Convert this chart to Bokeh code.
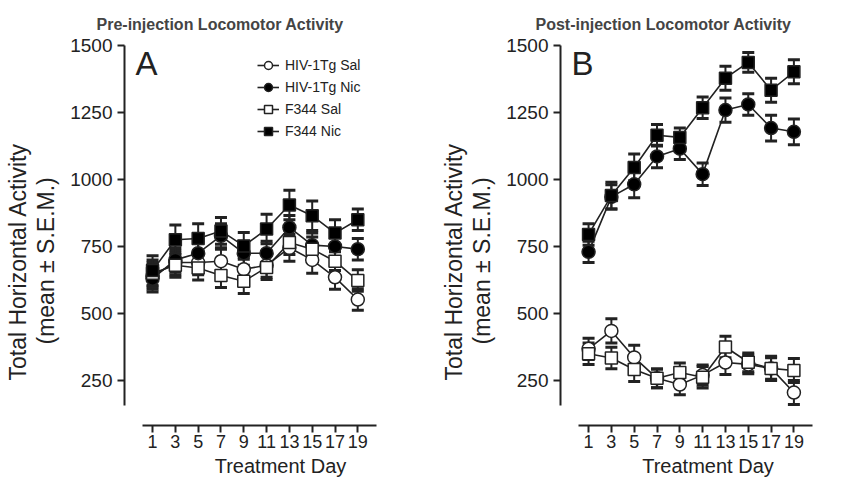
from bokeh.plotting import figure
from bokeh.models import ColumnDataSource, Whisker, TeeHead, Legend, LegendItem, Label, FixedTicker, Title
from bokeh.layouts import row
from bokeh.embed import file_html
from bokeh.resources import INLINE

days = [1, 3, 5, 7, 9, 11, 13, 15, 17, 19]
series_names = ["HIV-1Tg Sal", "HIV-1Tg Nic", "F344 Sal", "F344 Nic"]

# Panel A: pre-injection
pre_hiv_sal = [640, 690, 690, 695, 665, 680, 745, 700, 635, 552]
pre_hiv_sal_err = [50, 45, 45, 45, 45, 45, 50, 50, 45, 40]
pre_hiv_nic = [630, 700, 725, 790, 725, 725, 821, 755, 750, 740]
pre_hiv_nic_err = [50, 45, 45, 45, 45, 45, 45, 45, 40, 40]
pre_f344_sal = [650, 680, 670, 642, 620, 672, 765, 740, 695, 623]
pre_f344_sal_err = [50, 45, 45, 45, 45, 45, 45, 45, 35, 40]
pre_f344_nic = [660, 775, 780, 808, 752, 815, 905, 865, 800, 850]
pre_f344_nic_err = [55, 55, 55, 50, 50, 55, 55, 55, 50, 40]

# Panel B: post-injection
post_hiv_sal = [368, 435, 336, 258, 235, 270, 317, 310, 295, 205]
post_hiv_sal_err = [40, 45, 45, 35, 38, 38, 45, 35, 40, 45]
post_hiv_nic = [730, 935, 982, 1086, 1115, 1020, 1259, 1280, 1192, 1178]
post_hiv_nic_err = [40, 45, 50, 42, 40, 42, 45, 40, 48, 48]
post_f344_sal = [350, 334, 291, 258, 280, 262, 375, 318, 295, 287]
post_f344_sal_err = [40, 40, 45, 35, 35, 40, 40, 35, 45, 45]
post_f344_nic = [795, 940, 1045, 1165, 1157, 1268, 1378, 1437, 1333, 1402]
post_f344_nic_err = [40, 50, 50, 40, 35, 40, 45, 37, 45, 45]

y_ticks = [250, 500, 750, 1000, 1250, 1500]
y_label_line1 = "Total Horizontal Activity"
y_label_line2 = "(mean \u00b1 S.E.M.)"
FONT = "Liberation Sans"

styles = [
    ("circle", "white", 13),
    ("circle", "black", 13),
    ("square", "white", 12),
    ("square", "black", 12),
]


def make_panel(title, letter, data, frame_w, x_end, legend):
    p = figure(frame_width=frame_w, frame_height=380, x_range=(-1.46, x_end),
               y_range=(82, 1500), output_backend="svg", toolbar_location=None,
               min_border_left=124, min_border_right=0,
               min_border_top=45, min_border_bottom=0)
    p.title.text = title
    p.title.text_font = FONT
    p.title.text_font_style = "bold"
    p.title.text_font_size = "16px"
    p.title.align = "left"
    p.title.offset = -28 if legend else -25
    p.title.standoff = 26
    p.outline_line_color = None
    p.grid.visible = False
    p.background_fill_color = "white"

    p.xaxis.ticker = FixedTicker(ticks=days)
    p.yaxis.ticker = FixedTicker(ticks=y_ticks)
    p.xaxis.bounds = (0.1, 20.6)
    p.yaxis.bounds = (155, 1500)
    for ax in (p.xaxis, p.yaxis):
        ax.axis_line_width = 2
        ax.axis_line_color = "#222222"
        ax.major_tick_line_width = 2
        ax.major_tick_line_color = "#222222"
        ax.major_tick_out = 7
        ax.major_tick_in = 0
        ax.minor_tick_out = 0
        ax.minor_tick_in = 0
        ax.major_label_text_font = FONT
        ax.major_label_text_color = "#222222"
        ax.axis_label_text_font = FONT
        ax.axis_label_text_font_style = "normal"
        ax.axis_label_text_color = "#222222"
    p.xaxis.major_label_text_font_size = "18px"
    p.yaxis.major_label_text_font_size = "19px"
    p.xaxis.major_label_standoff = 2
    p.yaxis.major_label_standoff = 5
    p.xaxis.axis_label = "Treatment Day"
    p.xaxis.axis_label_text_font_size = "20px"
    p.xaxis.axis_label_standoff = 4

    # two-line y-axis title, sitting a little below the frame centre as in the reference
    for text, off, so in ((y_label_line2, 81, 17), (y_label_line1, 45, -17)):
        t = Title(text=text, align="left", offset=off, standoff=so,
                  text_font=FONT, text_font_size="23px", text_font_style="normal",
                  text_color="#222222")
        p.add_layout(t, "left")

    items = []
    for name, (vals, errs), (marker, fill, size) in zip(series_names, data, styles):
        src = ColumnDataSource(dict(
            x=days, y=vals,
            upper=[v + e for v, e in zip(vals, errs)],
            lower=[v - e for v, e in zip(vals, errs)],
        ))
        w = Whisker(source=src, base="x", upper="upper", lower="lower",
                    line_width=2, line_color="#222222",
                    upper_head=TeeHead(size=12, line_width=3, line_color="#222222"),
                    lower_head=TeeHead(size=12, line_width=3, line_color="#222222"))
        p.add_layout(w)
        lr = p.line("x", "y", source=src, line_color="#222222", line_width=1.6)
        sr = p.scatter("x", "y", source=src, marker=marker, size=size,
                       fill_color=fill, line_color="#222222", line_width=1.5)
        items.append(LegendItem(label=name, renderers=[lr, sr]))

    if legend:
        lg = Legend(items=items, location=(133, 284), border_line_color=None,
                    background_fill_alpha=0, label_text_font=FONT,
                    label_text_font_size="14px", label_text_color="#222222",
                    glyph_width=22, glyph_height=20, label_height=20,
                    spacing=2, padding=4, margin=0, label_standoff=6)
        p.add_layout(lg, "center")

    p.add_layout(Label(x=11, y=362, x_units="screen", y_units="screen", text=letter,
                       text_font=FONT, text_font_size="33px", text_color="#222222",
                       text_baseline="alphabetic"))
    return p


pa = make_panel("Pre-injection Locomotor Activity", "A", [
    (pre_hiv_sal, pre_hiv_sal_err), (pre_hiv_nic, pre_hiv_nic_err),
    (pre_f344_sal, pre_f344_sal_err), (pre_f344_nic, pre_f344_nic_err)], 312, 25.9, True)
pb = make_panel("Post-injection Locomotor Activity", "B", [
    (post_hiv_sal, post_hiv_sal_err), (post_hiv_nic, post_hiv_nic_err),
    (post_f344_sal, post_f344_sal_err), (post_f344_nic, post_f344_nic_err)], 295, 24.4, False)

layout = row(pa, pb)
open("out.html", "w").write(file_html(layout, INLINE))
